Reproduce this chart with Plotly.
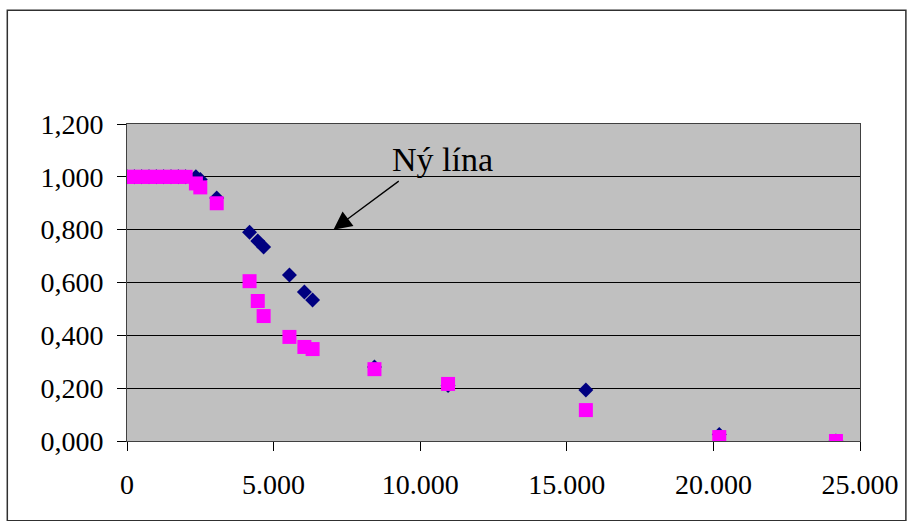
import plotly.graph_objects as go

x_vals = [0, 250, 500, 750, 1000, 1250, 1500, 1750, 2000, 2350, 2500, 3060,
          4180, 4460, 4660, 5540, 6050, 6330, 8440, 10950, 15650, 20200, 24180]
y_blue = [1.0, 1.0, 1.0, 1.0, 1.0, 1.0, 1.0, 1.0, 1.0, 1.0, 0.99, 0.92,
          0.79, 0.757, 0.734, 0.628, 0.564, 0.534, 0.28, 0.21, 0.193, 0.025, 0.0]
y_pink = [1.0, 1.0, 1.0, 1.0, 1.0, 1.0, 1.0, 1.0, 1.0, 0.975, 0.96, 0.90,
          0.605, 0.53, 0.473, 0.394, 0.356, 0.348, 0.272, 0.216, 0.117, 0.015, 0.0]

x_ticks = [0, 5000, 10000, 15000, 20000, 25000]
x_tick_text = ["0", "5.000", "10.000", "15.000", "20.000", "25.000"]
y_ticks = [0, 0.2, 0.4, 0.6, 0.8, 1.0, 1.2]
y_tick_text = ["0,000", "0,200", "0,400", "0,600", "0,800", "1,000", "1,200"]

font = "Liberation Serif, Times New Roman, serif"

fig = go.Figure()
fig.add_trace(go.Scatter(x=x_vals, y=y_blue, mode="markers",
                         marker=dict(symbol="diamond", size=11.5, color="#000080",
                                     line=dict(width=0)), showlegend=False))
fig.add_trace(go.Scatter(x=x_vals, y=y_pink, mode="markers",
                         marker=dict(symbol="square", size=14, color="#FF00FF",
                                     line=dict(width=0)), showlegend=False))

fig.update_layout(
    width=911, height=521,
    margin=dict(l=127, r=49, t=124, b=80),
    paper_bgcolor="white", plot_bgcolor="#C0C0C0",
    font=dict(family=font, size=28, color="black"),
    xaxis=dict(range=[0, 25000], tickvals=x_ticks, ticktext=x_tick_text,
               showgrid=False, zeroline=False, showline=True, linecolor="#404040",
               linewidth=1, mirror=True, ticks="outside", ticklen=9, tickcolor="black",
               ticklabelstandoff=9),
    yaxis=dict(range=[0, 1.2], tickvals=y_ticks, ticktext=y_tick_text,
               showgrid=True, gridcolor="#000000", gridwidth=1, zeroline=False,
               showline=True, linecolor="#404040", linewidth=1, mirror=True,
               ticks="outside", ticklen=9, tickcolor="black", ticklabelstandoff=8),
    shapes=[dict(type="rect", xref="paper", yref="paper", x0=-0.1633, x1=1.0626,
                 y0=-0.2514, y1=1.3588, line=dict(color="#303030", width=1.5))],
    annotations=[
        dict(x=7040, y=0.80, ax=9320, ay=0.988, xref="x", yref="y", axref="x", ayref="y",
             text="", showarrow=True, arrowhead=2, arrowsize=2.8, arrowwidth=1.3,
             arrowcolor="black"),
        dict(x=10750, y=1.065, xref="x", yref="y", text="Ný lína", showarrow=False,
             font=dict(family=font, size=34, color="black")),
    ],
)

fig.write_html("out.html")
